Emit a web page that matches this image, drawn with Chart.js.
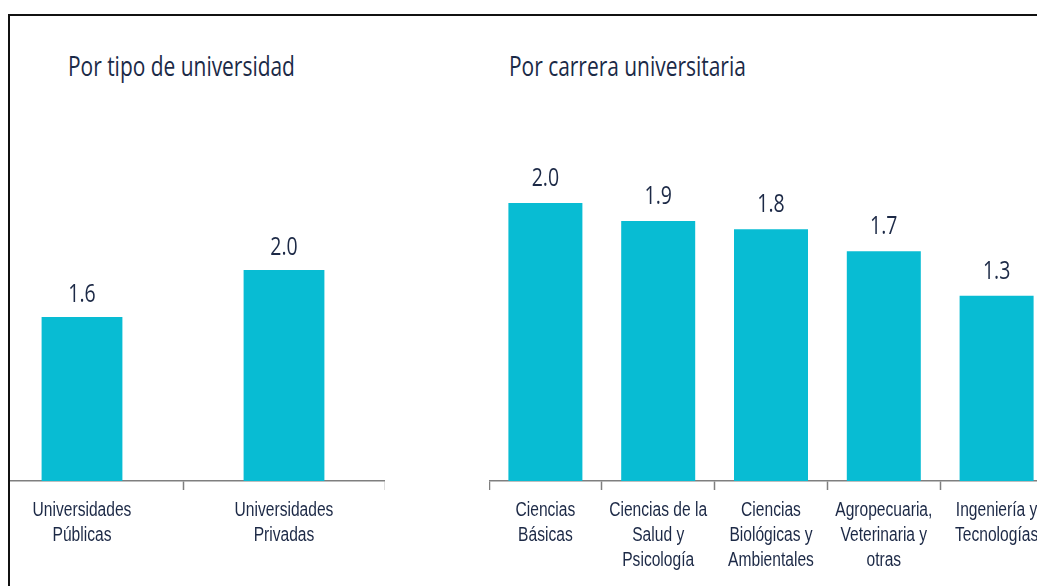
<!DOCTYPE html>
<html>
<head>
<meta charset="utf-8">
<script src="https://cdn.jsdelivr.net/npm/chart.js@4"></script>
<style>
  html, body { margin: 0; padding: 0; background: #fff; overflow: hidden; width: 1037px; height: 586px; }
  #frame { position: absolute; left: 8px; top: 14px; width: 1100px; height: 600px;
           border-left: 2px solid #111; border-top: 2px solid #111; overflow: hidden; }
  .title { position: absolute; font-family: 'Open Sans', sans-serif; font-size: 27px; line-height: 27px;
           color: #1b2a47; transform-origin: left top; transform: scaleX(0.775); white-space: nowrap; }
  canvas { position: absolute; }
</style>
</head>
<body>
<div id="frame">
  <div class="title" style="left:58px; top:36px;">Por tipo de universidad</div>
  <div class="title" style="left:499px; top:36px;">Por carrera universitaria</div>
  <canvas id="tipoChart" width="404" height="366" style="left:-29px; top:204px;"></canvas>
  <canvas id="carreraChart" width="564" height="437" style="left:479px; top:133px;"></canvas>
</div>
<script>
// Data (labels shown with one decimal)
const tipoLabels = [['Universidades', 'Públicas'], ['Universidades', 'Privadas']];
const tipoValues = [1.57, 2.02];

const carreraLabels = [
    ['Ciencias', 'Básicas'],
    ['Ciencias de la', 'Salud y', 'Psicología'],
    ['Ciencias', 'Biológicas y', 'Ambientales'],
    ['Agropecuaria,', 'Veterinaria y', 'otras'],
    ['Ingeniería y', 'Tecnologías']
];
const carreraValues = [2.01, 1.88, 1.82, 1.66, 1.34];

const barColor = '#08bcd3';
const axisColor = '#7f7f7f';
const textColor = '#1c2946';

// value over each bar
const valueLabels = {
    id: 'valueLabels',
    afterDatasetsDraw(chart, args, opts) {
        const ctx = chart.ctx;
        const meta = chart.getDatasetMeta(0);
        ctx.save();
        ctx.fillStyle = textColor;
        ctx.font = '25px "Open Sans", sans-serif';
        ctx.textAlign = 'center';
        ctx.textBaseline = 'alphabetic';
        meta.data.forEach((bar, i) => {
            const v = chart.data.datasets[0].data[i];
            ctx.save();
            ctx.translate(bar.x, bar.y - opts.gap);
            ctx.scale(0.78, 1);
            ctx.fillText(v.toFixed(1), 0, 0);
            ctx.restore();
        });
        ctx.restore();
    }
};

// category labels, narrowed like the original condensed face
const categoryLabels = {
    id: 'categoryLabels',
    afterDraw(chart) {
        const ctx = chart.ctx;
        const xs = chart.scales.x;
        ctx.save();
        ctx.fillStyle = textColor;
        ctx.font = '19.5px "Liberation Sans", Arial, sans-serif';
        ctx.textAlign = 'center';
        ctx.textBaseline = 'alphabetic';
        chart.data.labels.forEach((lines, i) => {
            const x = xs.getPixelForTick(i);
            lines.forEach((line, j) => {
                ctx.save();
                ctx.translate(x, xs.top + 35 + j * 25);
                ctx.scale(0.8, 1);
                ctx.fillText(line, 0, 0);
                ctx.restore();
            });
        });
        ctx.restore();
    }
};

function makeChart(id, labels, values, yMax, barPct, gap) {
    return new Chart(document.getElementById(id), {
        type: 'bar',
        data: {
            labels: labels,
            datasets: [{
                data: values,
                backgroundColor: barColor,
                borderWidth: 0,
                barPercentage: barPct,
                categoryPercentage: 1.0
            }]
        },
        options: {
            responsive: false,
            animation: false,
            events: [],
            layout: { padding: 0 },
            plugins: {
                legend: { display: false },
                tooltip: { enabled: false },
                valueLabels: { gap: gap }
            },
            scales: {
                x: {
                    grid: {
                        offset: true,
                        drawOnChartArea: false,
                        drawTicks: true,
                        tickLength: 9,
                        tickWidth: 1.5,
                        color: axisColor
                    },
                    border: { display: true, color: axisColor, width: 1.5 },
                    ticks: { display: false },
                    afterFit(scale) { scale.height = 105; }
                },
                y: {
                    display: false,
                    min: 0,
                    max: yMax
                }
            }
        },
        plugins: [valueLabels, categoryLabels]
    });
}

makeChart('tipoChart', tipoLabels, tipoValues, 2.5, 0.4, 15);
makeChart('carreraChart', carreraLabels, carreraValues, 2.4, 0.656, 17);
</script>
</body>
</html>
